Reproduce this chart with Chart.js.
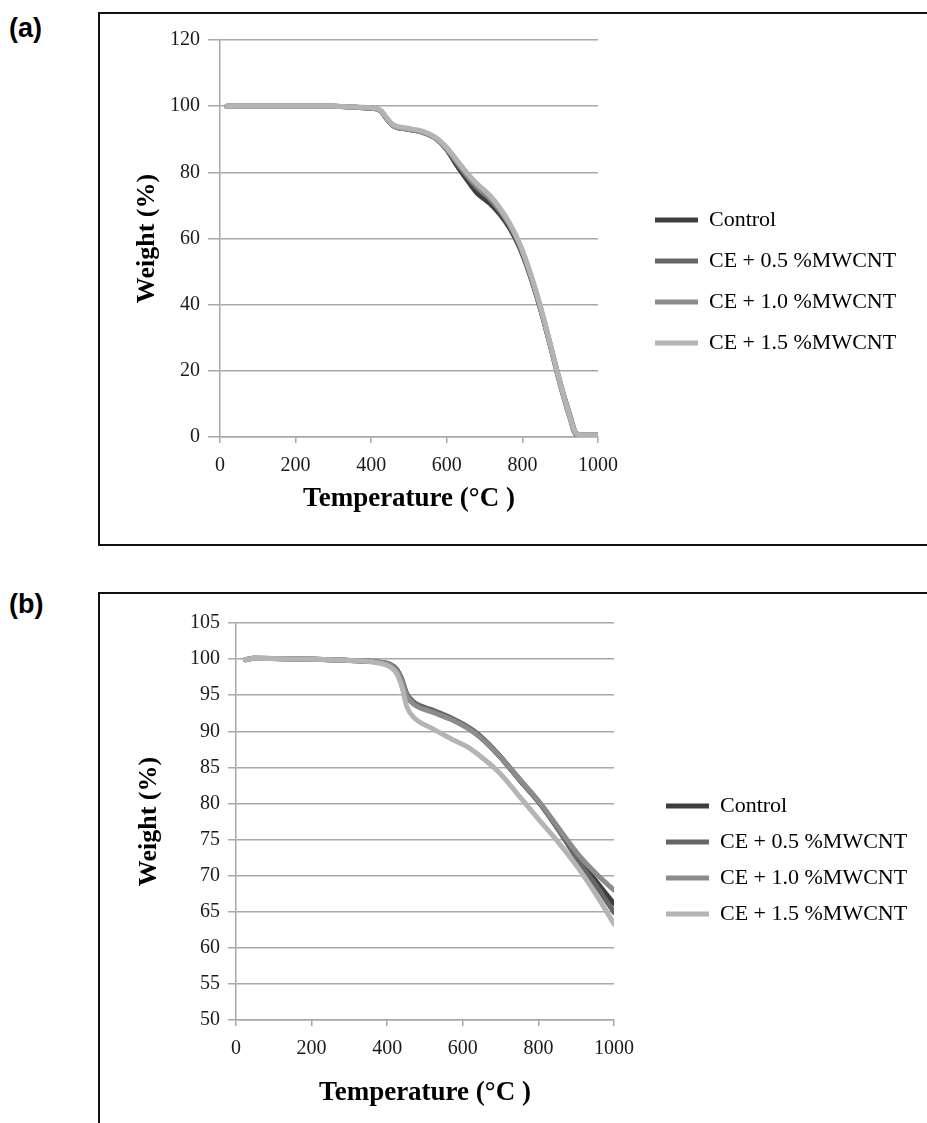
<!DOCTYPE html>
<html>
<head>
<meta charset="utf-8">
<script src="https://cdn.jsdelivr.net/npm/chart.js@4.4.1/dist/chart.umd.min.js"></script>
<style>
  body { margin: 0; background: #fff; overflow: hidden; width: 927px; height: 1123px; position: relative; }
  .frame { position: absolute; left: 98px; width: 1000px; border: 2.5px solid #111; box-sizing: border-box; }
  .tag { position: absolute; left: 9px; font: bold 27px "Liberation Sans", Arial, sans-serif; color: #000; }
  canvas { position: absolute; left: 101px; }
</style>
</head>
<body>
<div class="frame" style="top:12px;height:534px"></div>
<div class="frame" style="top:592px;height:600px"></div>
<div class="tag" style="top:13px">(a)</div>
<div class="tag" style="top:589px">(b)</div>
<canvas id="chartA" width="826" height="531" style="top:16px"></canvas>
<canvas id="chartB" width="826" height="528" style="top:596px"></canvas>
<script>
// series names and colours
const seriesNames = ['Control', 'CE + 0.5 %MWCNT', 'CE + 1.0 %MWCNT', 'CE + 1.5 %MWCNT'];
const seriesColors = ['#3e3e3e', '#666666', '#8c8c8c', '#b4b4b4'];

// (a) TGA, 0-1000 °C
const tempsA = [18, 100, 211, 300, 370, 414, 427, 441, 458, 493, 537, 573, 599, 626, 652, 678, 714, 740, 767, 793, 819, 846, 872, 899, 925, 943, 956, 1000];
const controlA = [100, 100, 100, 100, 99.6, 99.2, 98.4, 96.2, 94.1, 93.1, 92.1, 90.1, 87.0, 82.2, 78.0, 74.0, 70.6, 67.4, 63.0, 57.2, 49.3, 39.4, 28.6, 16.8, 6.8, 1.0, 0.7, 0.7];
const ce05A = [100, 100, 100, 100, 99.6, 99.2, 98.4, 96.2, 94.1, 93.1, 92.1, 90.1, 87.1, 83.0, 79.0, 75.5, 71.9, 68.4, 63.8, 57.8, 49.7, 39.6, 28.5, 16.4, 6.3, 0.7, 0.7, 0.7];
const ce10A = [100, 100, 100, 100, 99.6, 99.2, 98.4, 96.2, 94.1, 93.1, 92.1, 90.1, 87.2, 83.2, 79.4, 76.0, 72.2, 68.6, 64.0, 58.0, 49.8, 39.7, 28.5, 16.3, 6.0, 0.7, 0.7, 0.7];
const ce15A = [100, 100, 100, 100, 99.7, 99.3, 98.6, 96.5, 94.4, 93.4, 92.4, 90.4, 87.6, 83.8, 80.0, 76.8, 73.0, 69.3, 64.5, 58.4, 50.3, 40.2, 29.0, 16.8, 6.5, 1.0, 0.7, 0.7];

// (b) TGA, zoomed 50-105 %
const tempsB = [25, 47, 170, 302, 372, 408, 425, 438, 452, 469, 522, 575, 610, 645, 698, 751, 804, 856, 909, 962, 1000];
const controlB = [99.9, 100.1, 100, 99.8, 99.6, 99.2, 98.5, 97.1, 95.0, 93.9, 92.7, 91.6, 90.6, 89.3, 86.5, 83.2, 80.0, 76.3, 72.2, 68.6, 66.1];
const ce05B = [99.9, 100.1, 100, 99.8, 99.6, 99.3, 98.6, 97.3, 95.2, 94.1, 92.9, 91.7, 90.7, 89.4, 86.6, 83.3, 80.0, 76.1, 71.8, 67.9, 64.9];
const ce10B = [99.9, 100.1, 100, 99.8, 99.6, 99.2, 98.4, 97.0, 94.9, 93.8, 92.6, 91.5, 90.5, 89.2, 86.5, 83.3, 80.1, 76.4, 72.7, 69.8, 68.0];
const ce15B = [99.9, 100.1, 100, 99.8, 99.5, 98.9, 98.0, 96.3, 93.4, 92.0, 90.3, 88.8, 87.9, 86.6, 84.2, 80.9, 77.6, 74.4, 70.8, 66.6, 63.3];

Chart.defaults.font.family = "'Liberation Serif', 'Times New Roman', serif";
Chart.defaults.color = '#1a1a1a';

const gridColor = '#a8a8a8';

const makeDatasets = (temps, seriesList) => seriesList.map((vals, i) => ({
    label: seriesNames[i],
    data: temps.map((t, k) => ({ x: t, y: vals[k] })),
    borderColor: seriesColors[i],
    backgroundColor: seriesColors[i],
    borderWidth: 5,
    pointRadius: 0,
    cubicInterpolationMode: 'monotone',
    borderCapStyle: 'round',
    order: seriesList.length - i
}));

// invisible axis used only to reserve horizontal room
const spacer = (weight, widthFn) => ({
    type: 'linear',
    position: 'right',
    weight: weight,
    display: true,
    grid: { display: false },
    border: { display: false },
    ticks: { display: false },
    afterFit: (s) => { s.width = widthFn(s); }
});

const createChart = (id, cfg) => {
    const ctx = document.getElementById(id);
    return new Chart(ctx, {
        type: 'line',
        data: { datasets: makeDatasets(cfg.temps, cfg.series) },
        options: {
            responsive: false,
            animation: false,
            devicePixelRatio: 1,
            layout: { padding: 0 },
            plugins: {
                tooltip: { enabled: false },
                title: { display: true, text: '', padding: 0, font: { size: cfg.top, lineHeight: 1 } },
                legend: {
                    position: 'right',
                    align: 'center',
                    maxWidth: 400,
                    labels: {
                        boxWidth: 43,
                        boxHeight: 5,
                        padding: cfg.legendPad,
                        color: '#000',
                        font: { size: 22 },
                        sort: (a, b) => a.datasetIndex - b.datasetIndex,
                        generateLabels: (chart) => Chart.defaults.plugins.legend.labels.generateLabels(chart)
                            .map(l => ({ ...l, lineWidth: 0, fillStyle: l.strokeStyle }))
                    }
                }
            },
            scales: {
                x: {
                    type: 'linear',
                    min: 0, max: 1000,
                    afterFit: (s) => { s.height = cfg.xHeight; },
                    ticks: { stepSize: 200, font: { size: 20 }, padding: 11, maxRotation: 0, callback: (v) => String(v) },
                    grid: { drawOnChartArea: false, drawTicks: true, tickLength: 6, color: gridColor, lineWidth: 1.5 },
                    border: { display: true, color: gridColor, width: 1.5 },
                    title: { display: true, text: 'Temperature (°C )', color: '#000', font: { size: 27, weight: 'bold' }, padding: { top: 0, bottom: cfg.xTitlePad } }
                },
                y: {
                    min: cfg.yMin, max: cfg.yMax,
                    afterFit: (s) => { s.width = cfg.yWidth; },
                    ticks: { stepSize: cfg.yStep, font: { size: 20 }, padding: 8 },
                    grid: { color: gridColor, lineWidth: 1.5, tickLength: cfg.yTick },
                    border: { display: true, color: gridColor, width: 1.5 },
                    title: { display: true, text: 'Weight (%)', color: '#000', font: { size: 26, weight: 'bold' }, padding: { top: cfg.yTitlePad, bottom: 0 } }
                },
                gapInner: spacer(1, () => cfg.gap),
                gapOuter: spacer(2000, (s) => Math.max(0, s.chart.width - cfg.legendLeft - s.chart.legend.width))
            }
        }
    });
};

createChart('chartA', {
    temps: tempsA, series: [controlA, ce05A, ce10A, ce15A],
    yMin: 0, yMax: 120, yStep: 20, yTick: 12,
    top: 24, yWidth: 119, xHeight: 110, xTitlePad: 32, yTitlePad: 31,
    legendPad: 19, gap: 38, legendLeft: 535
});

createChart('chartB', {
    temps: tempsB, series: [controlB, ce05B, ce10B, ce15B],
    yMin: 50, yMax: 105, yStep: 5, yTick: 8,
    top: 27, yWidth: 135, xHeight: 104, xTitlePad: 15, yTitlePad: 33,
    legendPad: 14, gap: 38, legendLeft: 551
});
</script>
</body>
</html>
